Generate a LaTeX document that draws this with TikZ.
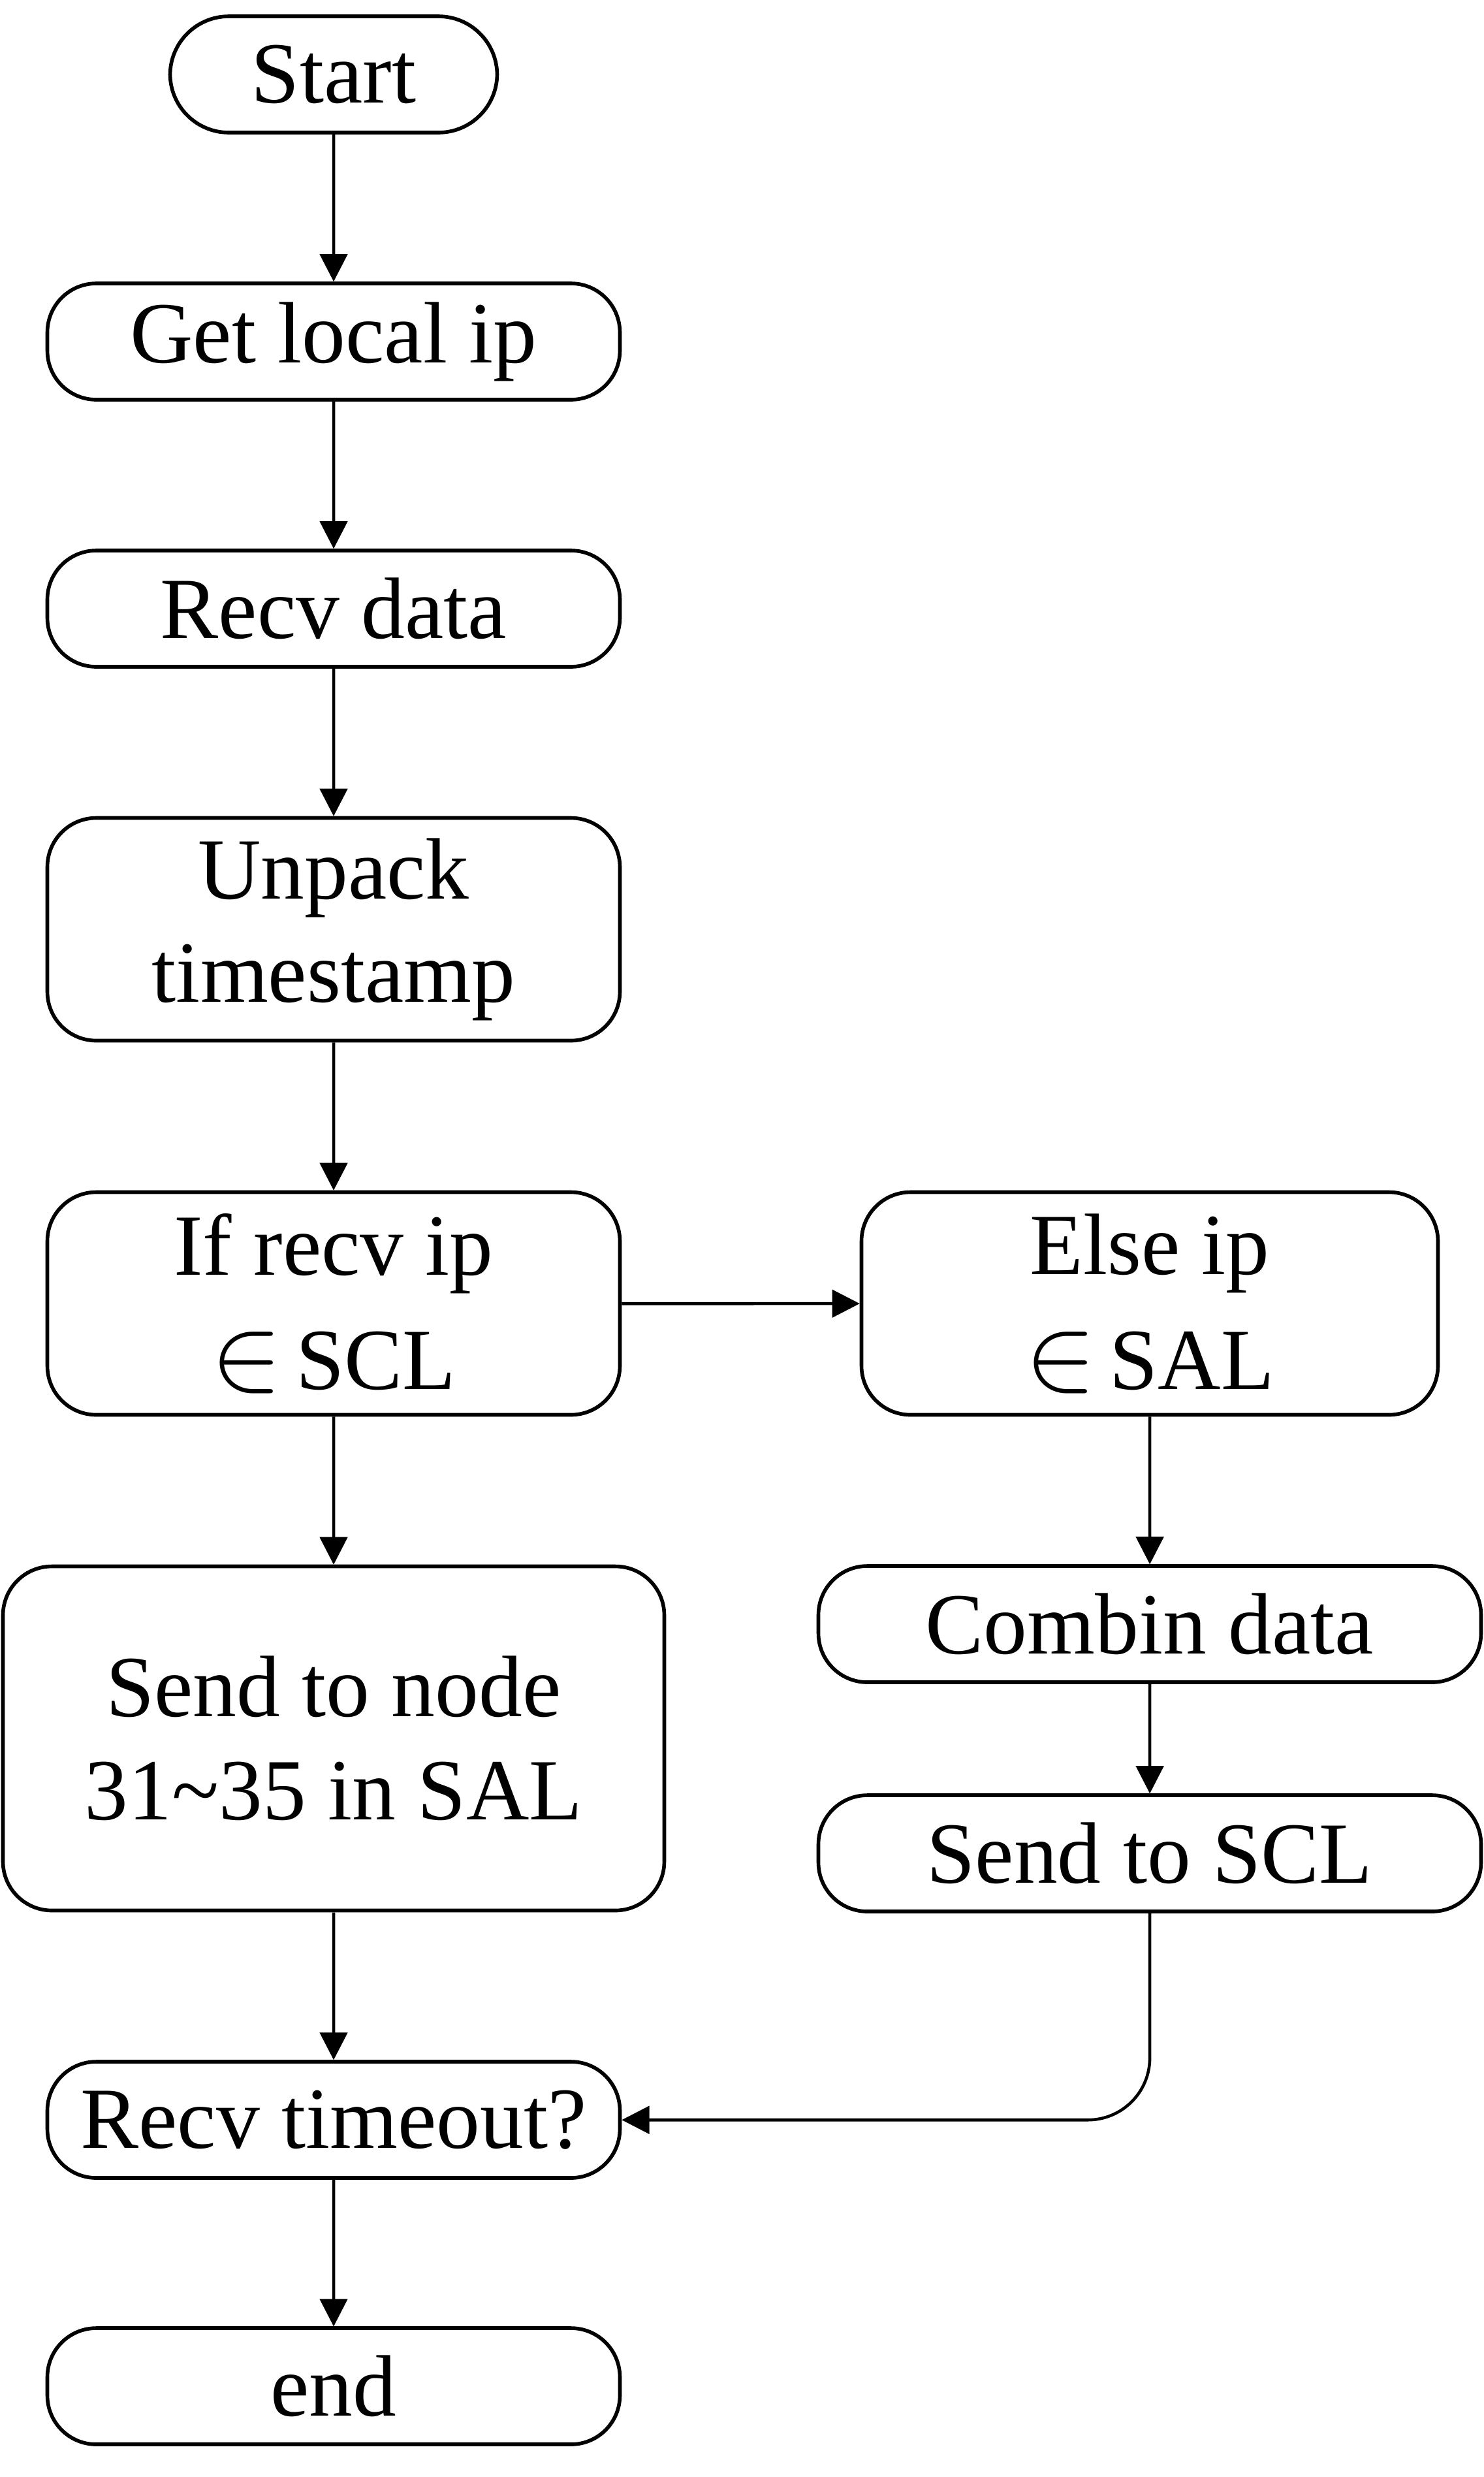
\documentclass[tikz,border=0pt]{standalone}
\usepackage{fontspec}
\setmainfont{Liberation Serif}
\newcommand\elem{\scalebox{1.86}{$\in$}\hspace{6pt}}
\usetikzlibrary{arrows.meta}
\begin{document}
\begin{tikzpicture}[scale=0.1]
\tikzstyle{every node}+=[inner sep=0pt]
\tikzstyle{box}=[draw, line width=1.6pt, rounded corners=0.75cm, align=center, font=\fontsize{38}{45}\selectfont, minimum width=8.77cm, minimum height=1.78cm]
\tikzstyle{tall}=[minimum height=3.41cm]
\tikzstyle{flow}=[line width=1.3pt, -{Triangle[length=12pt,width=12pt]}]
\useasboundingbox (0,0) rectangle (227.3,-379.3);
\node [box, minimum width=5.01cm, rounded corners=0.9cm] (start) at (51.1,-11.4) {Start};
\node [box] (getip) at (51.1,-52.3) {Get local ip};
\node [box] (recv) at (51.1,-93.2) {Recv data};
\node [box, tall] (unpack) at (51.1,-142.3) {Unpack\\timestamp};
\node [box, tall] (ifip) at (51.1,-199.6) {If recv ip\\[5pt]\elem SCL};
\node [box, tall, minimum width=8.83cm] (elseip) at (176.1,-199.6) {Else ip\\[5pt]\elem SAL};
\node [box, minimum width=10.13cm, minimum height=5.27cm] (sendnode) at (51.1,-266.2) {Send to node\\31\textasciitilde 35 in SAL};
\node [box, minimum width=10.15cm] (combin) at (176.1,-248.7) {Combin data};
\node [box, minimum width=10.15cm] (sendscl) at (176.1,-283.8) {Send to SCL};
\node [box] (timeout) at (51.1,-324.6) {Recv timeout?};
\node [box] (end) at (51.1,-365.4) {end};
\draw [flow] (start) -- (getip);
\draw [flow] (getip) -- (recv);
\draw [flow] (recv) -- (unpack);
\draw [flow] (unpack) -- (ifip);
\draw [flow] (ifip) -- (elseip);
\draw [flow] (ifip) -- (sendnode);
\draw [flow] (elseip) -- (combin);
\draw [flow] (combin) -- (sendscl);
\draw [flow] (sendnode) -- (timeout);
\draw [flow, rounded corners=0.95cm] (sendscl.south) |- (timeout.east);
\draw [flow] (timeout) -- (end);
\end{tikzpicture}
\end{document}
